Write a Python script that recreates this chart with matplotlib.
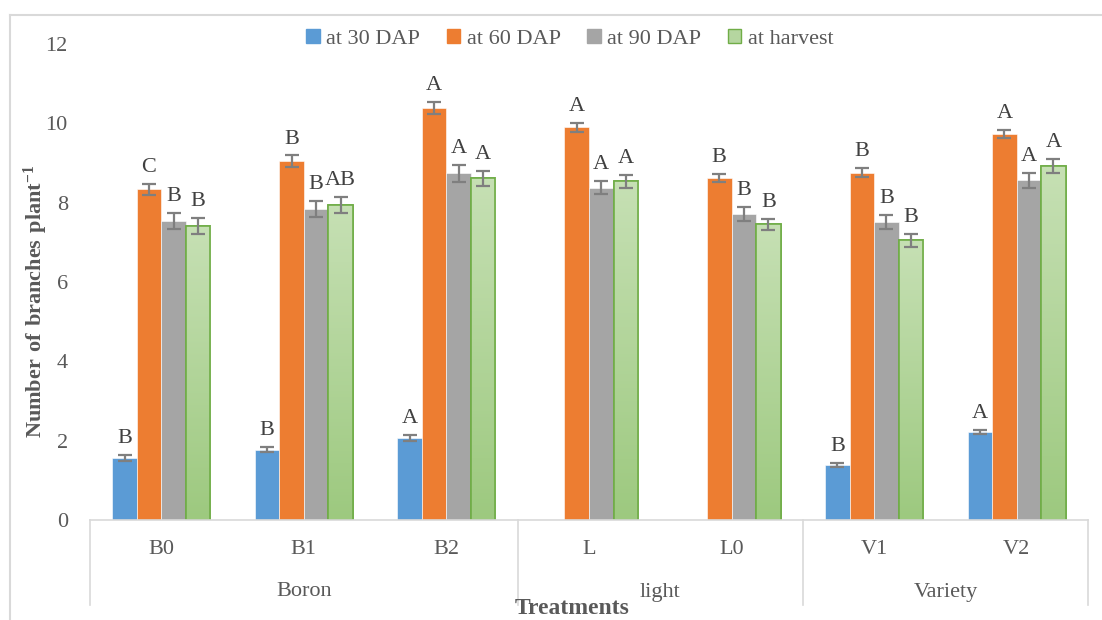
import numpy as np
import matplotlib
matplotlib.use("Agg")
import matplotlib.pyplot as plt
from matplotlib.lines import Line2D

# data
treatments = ["B0", "B1", "B2", "L", "L0", "V1", "V2"]
groups = ["Boron", "light", "Variety"]
group_spans = [(0, 2), (3, 4), (5, 6)]
series = ["at 30 DAP", "at 60 DAP", "at 90 DAP", "at harvest"]

dap30 = [1.56, 1.77, 2.07, 0.0, 0.0, 1.39, 2.21]
dap60 = [8.34, 9.04, 10.38, 9.90, 8.63, 8.76, 9.74]
dap90 = [7.54, 7.84, 8.74, 8.38, 7.72, 7.52, 8.56]
harvest = [7.41, 7.94, 8.61, 8.54, 7.45, 7.05, 8.92]

err30 = [0.07, 0.06, 0.07, 0.0, 0.0, 0.05, 0.05]
err60 = [0.14, 0.15, 0.15, 0.12, 0.10, 0.12, 0.10]
err90 = [0.21, 0.20, 0.22, 0.17, 0.18, 0.18, 0.18]
err_harvest = [0.20, 0.20, 0.20, 0.16, 0.15, 0.17, 0.17]

let30 = ["B", "B", "A", "", "", "B", "A"]
let60 = ["C", "B", "A", "A", "B", "B", "A"]
let90 = ["B", "B", "A", "A", "B", "B", "A"]
let_harvest = ["B", "AB", "A", "A", "B", "B", "A"]

values = [dap30, dap60, dap90, harvest]
errors = [err30, err60, err90, err_harvest]
letters = [let30, let60, let90, let_harvest]
colors = ["#5B9BD5", "#ED7D31", "#A5A5A5", "#B5D6A0"]

plt.rcParams["font.family"] = ["Liberation Serif", "DejaVu Serif"]
plt.rcParams["mathtext.fontset"] = "custom"
plt.rcParams["mathtext.rm"] = "Liberation Serif"
plt.rcParams["mathtext.bf"] = "Liberation Serif:bold"

TXT = "#595959"
LINE = "#D9D9D9"
W, H = 1102, 620

fig = plt.figure(figsize=(W / 100, H / 100), dpi=100)
ax = fig.add_axes([90 / W, 100 / H, 998 / W, 476 / H])

x = np.arange(len(treatments))
bw = 0.172
offsets = (np.arange(4) - 1.5) * bw

for i in range(4):
    vals = np.array(values[i])
    errs = np.array(errors[i])
    if i == 3:
        bars = ax.bar(x + offsets[i], vals, bw, color=colors[i], edgecolor="#70AD47",
                      linewidth=1.2, zorder=2)
        # vertical gradient inside the green bars
        grad = np.linspace(0, 1, 100).reshape(-1, 1)
        cmap = matplotlib.colors.LinearSegmentedColormap.from_list("g", ["#9DC97F", "#C6E0B4"])
        for b in bars:
            bx, by = b.get_x(), b.get_y()
            im = ax.imshow(grad, extent=[bx, bx + b.get_width(), by, by + b.get_height()],
                           origin="lower", aspect="auto", cmap=cmap, zorder=2.1)
            im.set_clip_path(b)
        ax.bar(x + offsets[i], vals, bw, color="none", edgecolor="#70AD47",
               linewidth=1.2, zorder=2.2)
    else:
        ax.bar(x + offsets[i], vals, bw, color=colors[i], edgecolor="white",
               linewidth=0.4, zorder=2)
    mask = vals > 0
    ax.errorbar(x[mask] + offsets[i], vals[mask], yerr=errs[mask], fmt="none",
                ecolor="#7F7F7F", elinewidth=1.6, capsize=5, capthick=1.6, zorder=3)
    for j in range(len(treatments)):
        if letters[i][j]:
            ax.annotate(letters[i][j], (x[j] + offsets[i], vals[j] + errs[j]),
                        xytext=(0, 5), textcoords="offset points", ha="center",
                        va="bottom", fontsize=16, color="#404040")

ax.set_xlim(-0.5, len(treatments) - 0.5)
ax.set_ylim(0, 12)
ax.set_yticks(np.arange(0, 13, 2))
ax.tick_params(axis="y", length=0, pad=16, labelsize=16, labelcolor=TXT)
ax.set_xticks([])
for s in ["left", "right", "top"]:
    ax.spines[s].set_visible(False)
ax.spines["bottom"].set_color(LINE)
ax.spines["bottom"].set_linewidth(1.2)

ax.set_ylabel(r"$\mathbf{Number\ of\ branches\ plant^{-1}}$", fontsize=16, color=TXT)
ax.yaxis.set_label_coords(-40 / 998, 0.46)

# multi-level category axis
trans = ax.get_xaxis_transform()
px = 1 / 476
for j, t in enumerate(treatments):
    ax.text(x[j], -30 * px, t, transform=trans, ha="center", va="center",
            fontsize=16, color=TXT)
for g, (a, b) in zip(groups, group_spans):
    ax.text((a + b) / 2, -72 * px, g, transform=trans, ha="center", va="center",
            fontsize=16, color=TXT)
for xs in [-0.5, 2.5, 4.5, 6.5]:
    ax.add_line(Line2D([xs, xs], [0, -85 * px], transform=trans, color=LINE,
                       linewidth=1.2, clip_on=False))
ax.text(3.0 - 0.12, -89 * px, "Treatments", transform=trans, ha="center", va="center",
        fontsize=17, fontweight="bold", color=TXT)

# legend
handles = [plt.Rectangle((0, 0), 1, 1, facecolor=c,
                         edgecolor="#70AD47" if k == 3 else c) for k, c in enumerate(colors)]
fig.legend(handles, series, loc="center", bbox_to_anchor=(570 / W, 1 - 39 / H),
           ncol=4, frameon=False, fontsize=16, labelcolor=TXT, handlelength=0.6,
           handleheight=0.6, handletextpad=0.3, columnspacing=1.2)

# outer chart border
fig.add_artist(Line2D([10 / W, 10 / W], [0, 1 - 15 / H], transform=fig.transFigure,
                      color=LINE, linewidth=1.5))
fig.add_artist(Line2D([10 / W, 1], [1 - 15 / H, 1 - 15 / H], transform=fig.transFigure,
                      color=LINE, linewidth=1.5))

fig.savefig("out.png", dpi=100)
